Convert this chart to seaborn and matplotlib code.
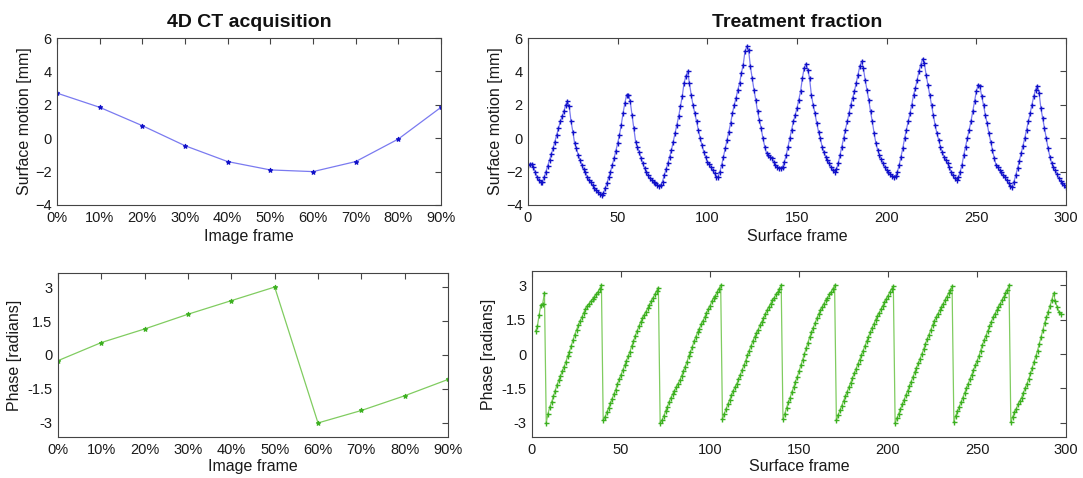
import numpy as np
import pandas as pd
import matplotlib
matplotlib.use("Agg")
import matplotlib.pyplot as plt
import seaborn as sns

# ---------------- data ----------------
ct_frames = [0, 10, 20, 30, 40, 50, 60, 70, 80, 90]
ct_tick_labels = ["0%", "10%", "20%", "30%", "40%", "50%", "60%", "70%", "80%", "90%"]
ct_motion = [2.7, 1.85, 0.75, -0.45, -1.4, -1.9, -2.0, -1.4, -0.05, 1.85]
ct_phase = [-0.25, 0.55, 1.15, 1.8, 2.4, 3.0, -3.0, -2.45, -1.8, -1.08]

# surface motion, frames 0..300
tx_motion = [
    -1.6, -1.55, -1.55, -1.7, -2.0, -2.3, -2.5, -2.65, -2.6, -2.35,
    -2.0, -1.65, -1.3, -0.95, -0.6, -0.2, 0.2, 0.6, 1.0, 1.3,
    1.6, 2.0, 2.2, 1.9, 1.0, 0.4, -0.3, -0.6, -1.0, -1.3,
    -1.6, -1.85, -2.0, -2.3, -2.5, -2.65, -2.8, -3.0, -3.1, -3.25,
    -3.35, -3.4, -3.3, -3.0, -2.7, -2.35, -2.0, -1.6, -1.2, -0.75,
    -0.3, 0.2, 0.8, 1.5, 2.1, 2.6, 2.6, 2.2, 1.4, 0.6,
    -0.2, -0.5, -0.8, -1.2, -1.5, -1.8, -2.0, -2.2, -2.4, -2.5,
    -2.6, -2.7, -2.8, -2.85, -2.8, -2.6, -2.2, -1.85, -1.5, -1.1,
    -0.7, -0.2, 0.3, 0.8, 1.3, 1.9, 2.5, 3.3, 3.7, 4.0,
    3.3, 2.6, 2.0, 1.5, 1.0, 0.5, 0.0, -0.4, -0.8, -1.1,
    -1.4, -1.55, -1.7, -1.9, -2.1, -2.35, -2.3, -2.0, -1.6, -1.1,
    -0.6, -0.1, 0.4, 0.9, 1.5, 2.0, 2.4, 2.9, 3.3, 3.9,
    4.4, 5.2, 5.5, 5.3, 4.3, 3.6, 2.9, 2.3, 1.6, 1.1,
    0.6, 0.0, -0.5, -0.9, -1.0, -1.1, -1.2, -1.4, -1.6, -1.75,
    -1.8, -1.8, -1.7, -1.4, -1.0, -0.5, 0.0, 0.5, 1.0, 1.4,
    1.8, 2.3, 2.8, 3.6, 4.2, 4.45, 4.1, 3.6, 2.6, 2.0,
    1.5, 0.9, 0.4, 0.0, -0.5, -0.85, -1.1, -1.3, -1.5, -1.7,
    -1.9, -2.0, -1.85, -1.5, -1.0, -0.5, 0.0, 0.5, 1.0, 1.5,
    2.0, 2.4, 2.8, 3.3, 3.8, 4.3, 4.6, 4.2, 3.5, 2.9,
    2.3, 1.6, 1.0, 0.3, -0.3, -0.7, -1.0, -1.25, -1.5, -1.7,
    -1.9, -2.05, -2.15, -2.25, -2.3, -2.25, -2.0, -1.6, -1.1, -0.6,
    0.0, 0.5, 1.0, 1.5, 2.0, 2.6, 3.0, 3.5, 4.0, 4.4,
    4.75, 4.5, 3.8, 3.2, 2.6, 2.0, 1.4, 0.8, 0.3, -0.1,
    -0.5, -0.8, -1.1, -1.3, -1.5, -1.75, -2.0, -2.2, -2.4, -2.5,
    -2.35, -2.0, -1.6, -1.0, -0.5, 0.0, 0.5, 1.0, 1.6, 2.2,
    2.8, 3.2, 3.1, 2.5, 2.0, 1.4, 0.9, 0.3, -0.2, -0.7,
    -1.2, -1.6, -1.75, -1.9, -2.05, -2.2, -2.35, -2.5, -2.7, -2.85,
    -2.9, -2.6, -2.2, -1.8, -1.35, -0.9, -0.45, 0.0, 0.5, 1.0,
    1.5, 2.0, 2.5, 2.9, 3.15, 2.7, 1.8, 1.2, 0.6, 0.0,
    -0.6, -1.1, -1.5, -1.7, -1.9, -2.15, -2.4, -2.55, -2.7, -2.8,
    -2.9,
]
tx_motion_frames = list(range(0, 301))

# phase, frames 2..297
tx_phase = [
    1.0, 1.2, 1.7, 2.15, 2.2, 2.65,
    -3.0, -2.6, -2.3, -2.1, -1.85, -1.6, -1.35, -1.15, -0.95, -0.75,
    -0.55, -0.35, -0.1, 0.1, 0.35, 0.6, 0.85, 1.05, 1.25, 1.45,
    1.6, 1.8, 1.95, 2.1, 2.2, 2.3, 2.4, 2.5, 2.6, 2.7, 2.85, 3.0,
    -2.9, -2.75, -2.55, -2.35, -2.15, -1.95, -1.75, -1.55, -1.3, -1.1,
    -0.9, -0.7, -0.5, -0.3, -0.1, 0.1, 0.35, 0.55, 0.8, 1.0,
    1.2, 1.4, 1.55, 1.7, 1.85, 2.0, 2.15, 2.3, 2.45, 2.6, 2.75, 2.9,
    -3.0, -2.9, -2.7, -2.5, -2.3, -2.1, -1.9, -1.75, -1.6, -1.45,
    -1.3, -1.15, -0.95, -0.75, -0.55, -0.35, -0.1, 0.1, 0.3, 0.55,
    0.75, 0.95, 1.1, 1.3, 1.45, 1.6, 1.8, 1.95, 2.1, 2.3,
    2.45, 2.55, 2.7, 2.85, 3.0,
    -2.85, -2.6, -2.4, -2.2, -2.0, -1.8, -1.6, -1.45, -1.3, -1.1,
    -0.9, -0.7, -0.5, -0.3, -0.05, 0.15, 0.35, 0.55, 0.75, 0.9,
    1.05, 1.25, 1.4, 1.55, 1.75, 1.9, 2.05, 2.2, 2.35, 2.45,
    2.6, 2.7, 2.85, 3.0,
    -2.85, -2.6, -2.35, -2.1, -1.9, -1.65, -1.45, -1.2, -1.0, -0.75,
    -0.5, -0.25, 0.0, 0.25, 0.5, 0.75, 0.95, 1.15, 1.35, 1.55,
    1.75, 1.9, 2.05, 2.2, 2.35, 2.45, 2.6, 2.7, 2.85, 3.0,
    -2.9, -2.65, -2.45, -2.25, -2.05, -1.85, -1.65, -1.45, -1.25, -1.05,
    -0.85, -0.65, -0.45, -0.25, -0.05, 0.15, 0.35, 0.55, 0.75, 0.95,
    1.15, 1.3, 1.5, 1.65, 1.8, 1.95, 2.1, 2.25, 2.4, 2.55,
    2.7, 2.85, 2.95,
    -3.0, -2.8, -2.6, -2.4, -2.2, -2.0, -1.8, -1.6, -1.4, -1.2,
    -1.0, -0.8, -0.6, -0.4, -0.2, 0.0, 0.2, 0.45, 0.65, 0.85,
    1.05, 1.25, 1.45, 1.6, 1.75, 1.9, 2.05, 2.2, 2.35, 2.5,
    2.65, 2.8, 2.95,
    -2.95, -2.7, -2.5, -2.3, -2.1, -1.9, -1.7, -1.5, -1.3, -1.1,
    -0.9, -0.7, -0.5, -0.3, -0.1, 0.15, 0.4, 0.6, 0.8, 1.0,
    1.2, 1.4, 1.6, 1.75, 1.9, 2.05, 2.2, 2.35, 2.5, 2.65,
    2.8, 3.0,
    -2.95, -2.75, -2.55, -2.4, -2.2, -2.05, -1.9, -1.7, -1.5, -1.3,
    -1.1, -0.85, -0.6, -0.35, -0.1, 0.15, 0.45, 0.75, 1.05, 1.35,
    1.6, 1.85, 2.1, 2.35, 2.65, 2.3, 2.05, 1.85, 1.75,
]
tx_phase_frames = list(range(2, 2 + len(tx_phase)))

# ---------------- style ----------------
sns.set_style("white")
plt.rcParams["font.family"] = ["Liberation Sans", "DejaVu Sans"]
plt.rcParams["xtick.direction"] = "in"
plt.rcParams["ytick.direction"] = "in"

W, H = 1083, 478
fig = plt.figure(figsize=(W / 100, H / 100), dpi=100)


def make_ax(l, r, t, b):
    return fig.add_axes([l / W, (H - b) / H, (r - l) / W, (b - t) / H])


ax_tl = make_ax(57, 441, 38, 205)
ax_tr = make_ax(528, 1066, 38, 205)
ax_bl = make_ax(58, 448, 273, 437)
ax_br = make_ax(532, 1066, 271, 437)

BLUE_LINE = "#7a7af0"
BLUE_MK = "#1010c8"
GREEN_LINE = "#80cc60"
GREEN_MK = "#3cb020"

sns.lineplot(x=ct_frames, y=ct_motion, ax=ax_tl, color=BLUE_LINE, lw=0.9,
             marker="*", markersize=3.5, mec=BLUE_MK, mfc=BLUE_MK, estimator=None)
sns.lineplot(x=tx_motion_frames, y=tx_motion, ax=ax_tr, color=BLUE_LINE, lw=0.9,
             marker="+", markersize=3.6, mew=1.0, mec=BLUE_MK, estimator=None)
sns.lineplot(x=ct_frames, y=ct_phase, ax=ax_bl, color=GREEN_LINE, lw=0.9,
             marker="*", markersize=3.5, mec=GREEN_MK, mfc=GREEN_MK, estimator=None)
sns.lineplot(x=tx_phase_frames, y=tx_phase, ax=ax_br, color=GREEN_LINE, lw=0.9,
             marker="+", markersize=3.6, mew=1.0, mec=GREEN_MK, estimator=None)

TXT = "#1a1a1a"
for ax in (ax_tl, ax_tr, ax_bl, ax_br):
    for s in ax.spines.values():
        s.set_color("#444444")
        s.set_linewidth(0.8)
    ax.tick_params(axis="both", which="both", direction="in", top=True, right=True,
                   length=4, width=0.8, color="#444444", labelsize=10.5,
                   labelcolor=TXT, pad=4)

# top row
for ax in (ax_tl, ax_tr):
    ax.set_ylim(-4, 6)
    ax.set_yticks([-4, -2, 0, 2, 4, 6])
    ax.set_ylabel("Surface motion [mm]", fontsize=11.5, color=TXT, labelpad=2)

ax_tl.set_xlim(0, 90)
ax_tl.set_xticks(ct_frames)
ax_tl.set_xticklabels(ct_tick_labels)
ax_tl.set_xlabel("Image frame", fontsize=11.5, color=TXT, labelpad=3)
ax_tl.set_title("4D CT acquisition", fontsize=14, fontweight="bold", color="#111111", pad=8)

ax_tr.set_xlim(0, 300)
ax_tr.set_xticks([0, 50, 100, 150, 200, 250, 300])
ax_tr.set_xlabel("Surface frame", fontsize=11.5, color=TXT, labelpad=3)
ax_tr.set_title("Treatment fraction", fontsize=14, fontweight="bold", color="#111111", pad=8)

# bottom row
for ax in (ax_bl, ax_br):
    ax.set_ylim(-3.62, 3.62)
    ax.set_yticks([-3, -1.5, 0, 1.5, 3])
    ax.set_yticklabels(["-3", "-1.5", "0", "1.5", "3"])
    ax.set_ylabel("Phase [radians]", fontsize=11.5, color=TXT, labelpad=4)

ax_bl.set_xlim(0, 90)
ax_bl.set_xticks(ct_frames)
ax_bl.set_xticklabels(ct_tick_labels)
ax_bl.set_xlabel("Image frame", fontsize=11.5, color=TXT, labelpad=2)

ax_br.set_xlim(0, 300)
ax_br.set_xticks([0, 50, 100, 150, 200, 250, 300])
ax_br.set_xlabel("Surface frame", fontsize=11.5, color=TXT, labelpad=2)

fig.savefig("out.png", dpi=100, facecolor="white")
